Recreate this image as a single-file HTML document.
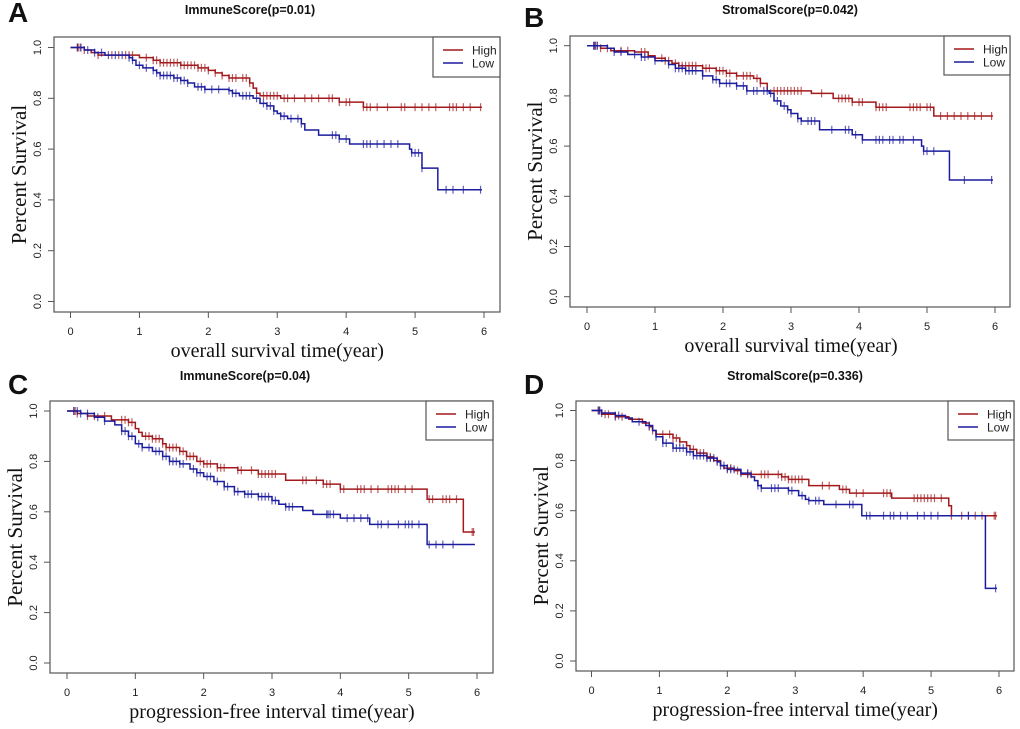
<!DOCTYPE html>
<html><head><meta charset="utf-8"><style>
html,body{margin:0;padding:0;background:#fff;}
svg{display:block;}
</style></head><body>
<svg id="fig" width="1020" height="729" xmlns="http://www.w3.org/2000/svg"></svg>
<script>
// ---- data ----
const aHighT=[0,0.2,0.3,0.4,1.0,1.2,1.3,1.6,1.85,2.0,2.1,2.2,2.3,2.6,2.65,2.7,2.75,3.05,3.9,4.25];
const aHighS=[1,0.99,0.98,0.97,0.96,0.95,0.94,0.93,0.92,0.91,0.90,0.89,0.88,0.86,0.84,0.82,0.81,0.80,0.785,0.765];
const aHighC=[0.1,0.12,0.15,0.2,0.4,0.6,0.7,0.8,0.85,0.9,1.1,1.2,1.25,1.3,1.35,1.4,1.45,1.5,1.55,1.6,1.65,1.7,1.75,1.8,1.85,1.9,1.95,2.0,2.1,2.2,2.3,2.35,2.4,2.5,2.55,2.6,2.8,2.85,2.9,2.95,3.0,3.1,3.15,3.25,3.4,3.5,3.6,3.75,3.8,3.9,4.0,4.05,4.25,4.3,4.35,4.45,4.6,4.8,4.85,5.0,5.1,5.2,5.3,5.5,5.55,5.6,5.7,5.8,5.95];
const aLowT=[0,0.2,0.35,0.5,0.85,0.9,0.95,1.05,1.2,1.25,1.3,1.5,1.6,1.7,1.8,1.95,2.3,2.35,2.45,2.65,2.75,2.85,2.95,3.0,3.05,3.15,3.35,3.4,3.6,3.9,4.05,4.92,4.95,5.1,5.33];
const aLowS=[1,0.99,0.98,0.97,0.96,0.95,0.93,0.92,0.91,0.90,0.89,0.88,0.87,0.86,0.845,0.835,0.83,0.82,0.81,0.80,0.78,0.77,0.75,0.74,0.73,0.72,0.70,0.675,0.655,0.64,0.62,0.60,0.585,0.525,0.44];
const aLowC=[0.1,0.15,0.25,0.35,0.45,0.55,0.65,0.75,0.85,0.9,1.0,1.1,1.2,1.25,1.3,1.35,1.4,1.45,1.5,1.55,1.6,1.65,1.7,1.85,1.9,1.95,2.05,2.15,2.3,2.35,2.4,2.5,2.55,2.6,2.7,2.8,2.85,2.9,2.95,3.05,3.1,3.2,3.3,3.35,3.8,3.85,3.9,4.0,4.25,4.3,4.35,4.45,4.55,4.65,4.75,4.95,5.0,5.05,5.1,5.45,5.55,5.7,5.95];

const bHighT=[0,0.2,0.35,0.7,0.9,1.0,1.15,1.25,1.35,1.7,1.9,2.05,2.2,2.45,2.55,2.65,3.3,3.62,3.9,4.25,5.1];
const bHighS=[1,0.99,0.98,0.975,0.96,0.95,0.94,0.93,0.92,0.91,0.90,0.89,0.88,0.87,0.85,0.82,0.81,0.79,0.775,0.755,0.72];
const bHighC=[0.1,0.12,0.15,0.2,0.3,0.5,0.6,0.8,0.85,0.9,1.1,1.15,1.2,1.3,1.35,1.4,1.45,1.5,1.55,1.6,1.7,1.75,1.8,1.9,1.95,2.0,2.05,2.1,2.2,2.3,2.35,2.4,2.5,2.55,2.75,2.8,2.85,2.9,2.95,3.0,3.05,3.1,3.15,3.45,3.7,3.75,3.8,3.85,3.9,4.0,4.05,4.25,4.3,4.35,4.4,4.75,4.8,4.85,4.9,5.0,5.05,5.2,5.3,5.4,5.5,5.6,5.7,5.8,5.95];
const bLowT=[0,0.3,0.4,0.6,0.8,1.0,1.2,1.3,1.45,1.7,1.85,1.95,2.2,2.35,2.68,2.75,2.85,2.95,3.0,3.1,3.15,3.42,3.9,4.05,4.92,4.95,5.33];
const bLowS=[1,0.99,0.975,0.965,0.955,0.94,0.925,0.91,0.90,0.88,0.865,0.85,0.84,0.82,0.81,0.78,0.76,0.745,0.73,0.71,0.70,0.665,0.645,0.625,0.60,0.58,0.465];
const bLowC=[0.1,0.12,0.15,0.4,0.5,0.7,0.8,0.85,1.0,1.2,1.3,1.35,1.4,1.45,1.5,1.55,1.6,1.7,1.85,1.9,1.95,2.05,2.1,2.2,2.3,2.35,2.45,2.5,2.6,2.65,2.7,2.8,2.9,2.95,3.0,3.1,3.15,3.25,3.3,3.35,3.6,3.8,3.85,3.95,4.05,4.25,4.3,4.35,4.45,4.5,4.6,4.65,4.8,4.95,5.0,5.1,5.55,5.95];

const cHighT=[0,0.15,0.3,0.65,0.9,1.0,1.05,1.1,1.25,1.4,1.45,1.65,1.75,1.9,2.0,2.2,2.5,2.8,3.2,3.75,4.0,5.27,5.8];
const cHighS=[1,0.99,0.98,0.965,0.955,0.93,0.915,0.90,0.89,0.87,0.855,0.84,0.82,0.80,0.79,0.775,0.765,0.75,0.725,0.71,0.69,0.65,0.52];
const cHighC=[0.1,0.12,0.15,0.3,0.4,0.55,0.8,0.85,0.9,0.95,1.15,1.2,1.25,1.3,1.35,1.4,1.45,1.5,1.55,1.6,1.65,1.7,1.75,1.8,1.85,1.95,2.0,2.05,2.1,2.2,2.25,2.3,2.5,2.55,2.7,2.8,2.85,2.9,2.95,3.0,3.05,3.45,3.5,3.65,3.75,3.8,3.85,4.0,4.05,4.25,4.3,4.35,4.45,4.55,4.7,4.75,4.8,4.85,4.95,5.05,5.3,5.35,5.5,5.55,5.6,5.7,5.93,5.95];
const cLowT=[0,0.2,0.4,0.55,0.7,0.8,0.9,1.0,1.1,1.25,1.4,1.5,1.65,1.8,1.9,2.0,2.15,2.3,2.45,2.6,2.8,3.0,3.1,3.2,3.45,3.6,4.0,4.43,5.27];
const cLowS=[1,0.99,0.975,0.96,0.945,0.92,0.90,0.87,0.855,0.84,0.82,0.80,0.79,0.77,0.755,0.74,0.72,0.70,0.68,0.67,0.66,0.645,0.63,0.62,0.605,0.59,0.575,0.55,0.47];
const cLowC=[0.1,0.15,0.2,0.3,0.45,0.55,0.8,0.85,0.9,0.95,1.05,1.1,1.2,1.3,1.35,1.4,1.45,1.5,1.55,1.6,1.65,1.7,1.85,1.9,1.95,2.05,2.1,2.2,2.3,2.35,2.45,2.5,2.6,2.65,2.7,2.8,2.85,2.9,2.95,3.0,3.05,3.2,3.25,3.3,3.8,3.82,3.85,3.9,4.1,4.2,4.3,4.4,4.55,4.6,4.7,4.85,4.95,5.0,5.05,5.15,5.3,5.4,5.5,5.65];

const dHighT=[0,0.15,0.35,0.55,0.75,0.85,0.9,0.95,1.2,1.3,1.4,1.45,1.55,1.7,1.8,1.9,1.95,2.1,2.2,2.8,2.9,3.2,3.65,3.8,4.42,5.26,5.3];
const dHighS=[1,0.985,0.975,0.965,0.95,0.935,0.92,0.905,0.89,0.875,0.86,0.845,0.83,0.815,0.80,0.78,0.77,0.76,0.745,0.735,0.725,0.70,0.685,0.67,0.65,0.62,0.58];
const dHighC=[0.1,0.12,0.2,0.25,0.35,0.45,0.85,0.9,1.05,1.15,1.2,1.25,1.3,1.4,1.5,1.6,1.65,1.7,1.75,1.85,2.0,2.05,2.15,2.3,2.35,2.5,2.55,2.6,2.75,2.8,2.85,2.9,2.95,3.0,3.05,3.1,3.4,3.5,3.7,3.75,3.9,4.0,4.3,4.35,4.4,4.75,4.8,4.85,4.9,4.95,5.0,5.05,5.15,5.3,5.45,5.55,5.65,5.75,5.93,5.95];
const dLowT=[0,0.15,0.35,0.5,0.6,0.8,0.9,0.95,1.05,1.2,1.4,1.5,1.7,1.85,1.9,2.0,2.2,2.35,2.4,2.45,2.5,2.9,3.05,3.15,3.2,3.42,3.98,5.8];
const dLowS=[1,0.99,0.98,0.97,0.955,0.94,0.92,0.895,0.87,0.85,0.835,0.82,0.81,0.795,0.78,0.765,0.75,0.735,0.72,0.70,0.69,0.68,0.66,0.645,0.64,0.625,0.58,0.29];
const dLowC=[0.1,0.12,0.15,0.35,0.4,0.7,0.85,0.95,1.05,1.1,1.2,1.25,1.3,1.35,1.4,1.45,1.5,1.55,1.6,1.65,1.7,1.75,1.8,1.85,1.9,1.95,2.0,2.05,2.1,2.2,2.3,2.45,2.5,2.65,2.7,2.75,2.9,2.95,3.1,3.2,3.3,3.35,3.6,3.8,3.85,4.05,4.1,4.3,4.4,4.45,4.55,4.65,4.8,4.9,5.0,5.1,5.55,5.95];

const xTicks=[0,1,2,3,4,5,6];
const yTicks=[0,0.2,0.4,0.6,0.8,1.0];
const yTickLabels=["0.0","0.2","0.4","0.6","0.8","1.0"];

const RED="#a3191c", BLUE="#1c1c9e";
const NS="http://www.w3.org/2000/svg";
const svg=document.getElementById('fig');
function mk(tag,attrs,parent){const e=document.createElementNS(NS,tag);for(const k in attrs)e.setAttribute(k,attrs[k]);(parent||svg).appendChild(e);return e;}

const panels=[
 {letter:"A",title:"ImmuneScore(p=0.01)",xlab:"overall survival time(year)",box:[54,37,500,312],x0:70.5,x6:484,y1:47.5,y0:301.5,leg:[433,37,500,77],lx:8,ly:22,tx:250,ty:14,
  hT:aHighT,hS:aHighS,hC:aHighC,lT:aLowT,lS:aLowS,lC:aLowC,end:5.97},
 {letter:"B",title:"StromalScore(p=0.042)",xlab:"overall survival time(year)",box:[570,36,1010,307],x0:587,x6:995,y1:45.7,y0:296.7,leg:[944,36,1010,75],lx:524,ly:27,tx:790,ty:14,
  hT:bHighT,hS:bHighS,hC:bHighC,lT:bLowT,lS:bLowS,lC:bLowC,end:5.97},
 {letter:"C",title:"ImmuneScore(p=0.04)",xlab:"progression-free interval time(year)",box:[50,401,493,673],x0:67,x6:477,y1:411,y0:663,leg:[426,401,493,440],lx:8,ly:394,tx:245,ty:380,
  hT:cHighT,hS:cHighS,hC:cHighC,lT:cLowT,lS:cLowS,lC:cLowC,end:5.97},
 {letter:"D",title:"StromalScore(p=0.336)",xlab:"progression-free interval time(year)",box:[576,401,1014,671],x0:591.5,x6:999,y1:410.5,y0:661,leg:[948,401,1014,440],lx:524,ly:394,tx:795,ty:380,
  hT:dHighT,hS:dHighS,hC:dHighC,lT:dLowT,lS:dLowS,lC:dLowC,end:5.97}
];

function stepAt(T,S,t){let v=S[0];for(let i=0;i<T.length;i++){if(T[i]<=t)v=S[i];}return v;}

panels.forEach((p,pi)=>{
  const g=mk('g',{});
  
  
  const X=t=>p.x0+(p.x6-p.x0)*t/6;
  const Y=v=>p.y0+(p.y1-p.y0)*v;
  const L=mk('text',{x:p.lx,y:p.ly,'font-family':'Liberation Sans, sans-serif','font-size':28,'font-weight':'bold',fill:'#111'},g);
  L.textContent=p.letter;
  
  const tt=mk('text',{x:p.tx,y:p.ty,'text-anchor':'middle','font-family':'Liberation Sans, sans-serif','font-size':12.5,'font-weight':'bold',fill:'#111'},g);
  tt.textContent=p.title;
  
  const b=p.box;
  const bx=mk('rect',{x:b[0],y:b[1],width:b[2]-b[0],height:b[3]-b[1],fill:'none',stroke:'#555','stroke-width':1.2},g);
  
  // x axis
  xTicks.forEach(t=>{
    mk('line',{x1:X(t),x2:X(t),y1:b[3],y2:b[3]+6,stroke:'#555','stroke-width':1},g);
    const tl=mk('text',{x:X(t),y:b[3]+23,'text-anchor':'middle','font-family':'Liberation Sans, sans-serif','font-size':11,fill:'#222'},g);
    tl.textContent=String(t);
    
  });
  mk('line',{x1:X(0),x2:X(6),y1:b[3],y2:b[3],stroke:'#555','stroke-width':1},g);
  const xl=mk('text',{x:(X(0)+X(6))/2,y:b[3]+45,'text-anchor':'middle','font-family':'Liberation Serif, serif','font-size':20,fill:'#111'},g);
  xl.textContent=p.xlab;
  
  // y axis
  yTicks.forEach((v,i)=>{
    mk('line',{x1:b[0]-6,x2:b[0],y1:Y(v),y2:Y(v),stroke:'#555','stroke-width':1},g);
    const yl=mk('text',{x:0,y:0,transform:`translate(${b[0]-13},${Y(v)}) rotate(-90)`,'text-anchor':'middle','font-family':'Liberation Sans, sans-serif','font-size':11,fill:'#222'},g);
    yl.textContent=yTickLabels[i];
    
  });
  const yt=mk('text',{x:0,y:0,transform:`translate(${b[0]-28},${(Y(0)+Y(1))/2}) rotate(-90)`,'text-anchor':'middle','font-family':'Liberation Serif, serif','font-size':21,fill:'#111'},g);
  yt.textContent="Percent Survival";
  
  // curves
  [[p.hT,p.hS,p.hC,RED,'high'],[p.lT,p.lS,p.lC,BLUE,'low']].forEach(([T,S,C,col,nm])=>{
    let d=`M${X(T[0])},${Y(S[0])}`;
    for(let i=1;i<T.length;i++){d+=`H${X(T[i])}V${Y(S[i])}`;}
    const cend=Math.max(p.end,C[C.length-1]);
    d+=`H${X(cend)}`;
    const path=mk('path',{d:d,fill:'none',stroke:col,'stroke-width':1.5},g);
    
    C.forEach(t=>{
      const v=stepAt(T,S,t);
      const m=mk('path',{d:`M${X(t)},${Y(v)-4}V${Y(v)+4}`,stroke:col,'stroke-width':1.2,'stroke-opacity':0.7},g);
      
    });
  });
  // legend
  const lg=p.leg;
  const lgg=mk('g',{},g);
  
  mk('rect',{x:lg[0],y:lg[1],width:lg[2]-lg[0],height:lg[3]-lg[1],fill:'#fff',stroke:'#555','stroke-width':1.2},lgg);
  [['High',RED],['Low',BLUE]].forEach(([lab,col],k)=>{
    const yy=lg[1]+13+k*13;
    mk('line',{x1:lg[0]+10,x2:lg[0]+30,y1:yy,y2:yy,stroke:col,'stroke-width':1.5},lgg);
    const lt=mk('text',{x:lg[0]+39,y:yy+4.5,'font-family':'Liberation Sans, sans-serif','font-size':12,fill:'#222'},lgg);
    lt.textContent=lab;
    
  });
});
</script>
</body></html>
